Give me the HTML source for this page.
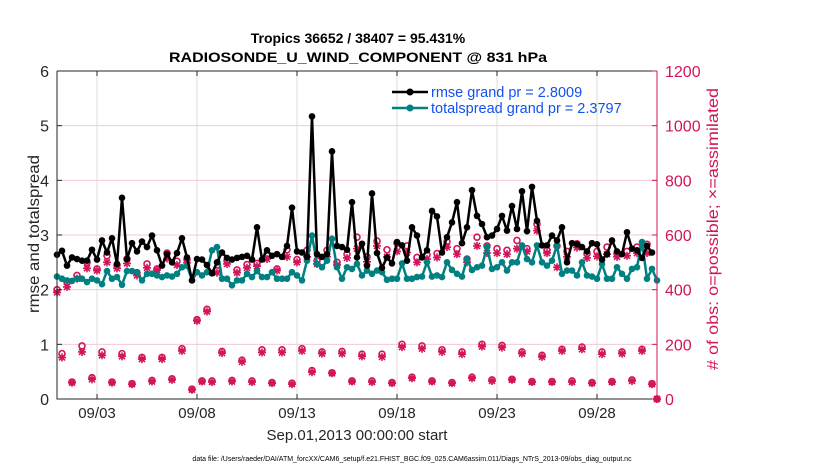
<!DOCTYPE html>
<html><head><meta charset="utf-8"><style>
html,body{margin:0;padding:0;background:#fff;}
svg{display:block;font-family:"Liberation Sans",Arial,sans-serif;}
</style></head><body>
<svg id="chart" width="830" height="470" viewBox="0 0 830 470">
<rect x="0" y="0" width="830" height="470" fill="#fff"/>
<g id="grid"></g>
<g id="series"></g>
<g id="axes"></g>
<text x="358" y="43" text-anchor="middle" font-size="14" font-weight="bold">Tropics 36652 / 38407 = 95.431%</text>
<text x="358" y="62" text-anchor="middle" font-size="14" font-weight="bold" textLength="378" lengthAdjust="spacingAndGlyphs">RADIOSONDE_U_WIND_COMPONENT @ 831 hPa</text>
<text transform="translate(39,234) rotate(-90)" text-anchor="middle" font-size="16" fill="#262626" textLength="158" lengthAdjust="spacingAndGlyphs">rmse and totalspread</text>
<text transform="translate(718,229) rotate(-90)" text-anchor="middle" font-size="16" fill="#d2145a" textLength="282" lengthAdjust="spacingAndGlyphs"># of obs: o=possible; ×=assimilated</text>
<text x="357" y="440" text-anchor="middle" font-size="15" fill="#262626">Sep.01,2013 00:00:00 start</text>
<text x="412" y="461" text-anchor="middle" font-size="7" fill="#000">data file: /Users/raeder/DAI/ATM_forcXX/CAM6_setup/f.e21.FHIST_BGC.f09_025.CAM6assim.011/Diags_NTrS_2013-09/obs_diag_output.nc</text>
<g>
<line x1="392" y1="92" x2="428" y2="92" stroke="#000" stroke-width="2.5"/>
<circle cx="410" cy="92" r="3.5" fill="#000"/>
<text x="431" y="97" font-size="14.5" fill="#1450f0">rmse grand pr = 2.8009</text>
<line x1="392" y1="108" x2="428" y2="108" stroke="#008080" stroke-width="2.5"/>
<circle cx="410" cy="108" r="3.5" fill="#008080"/>
<text x="431" y="113" font-size="14.5" fill="#1450f0">totalspread grand pr = 2.3797</text>
</g>
</svg>
<script>
const rmse=[2.64,2.71,2.44,2.59,2.56,2.53,2.53,2.73,2.55,2.9,2.68,2.94,2.47,3.68,2.56,2.85,2.7,2.88,2.78,2.99,2.72,2.44,2.65,2.5,2.67,2.94,2.59,2.17,2.56,2.55,2.45,2.3,2.5,2.68,2.58,2.55,2.58,2.6,2.62,2.55,3.14,2.55,2.72,2.62,2.65,2.6,2.8,3.5,2.7,2.68,2.6,5.17,2.65,2.6,2.65,4.53,2.8,2.78,2.73,3.6,2.59,2.84,2.44,3.76,2.67,2.4,2.59,2.48,2.87,2.81,2.53,3.14,2.99,2.59,2.72,3.44,3.34,2.68,2.96,3.23,3.6,2.85,3.14,3.82,3.35,3.2,2.96,2.99,3.11,3.35,3.08,3.53,3.11,3.8,3.07,3.88,3.26,2.81,2.81,2.99,2.9,3.14,2.5,2.85,2.83,2.78,2.7,2.85,2.83,2.55,2.65,2.9,2.7,2.65,3.05,2.75,2.72,2.58,2.8,2.68];
const spread=[2.24,2.2,2.17,2.16,2.2,2.2,2.14,2.2,2.17,2.1,2.34,2.2,2.23,2.09,2.34,2.34,2.32,2.17,2.29,2.29,2.26,2.23,2.26,2.24,2.29,2.41,2.44,2.17,2.32,2.26,2.32,2.72,2.78,2.2,2.2,2.08,2.17,2.17,2.29,2.23,2.34,2.23,2.23,2.32,2.2,2.2,2.2,2.32,2.26,2.17,2.53,2.99,2.47,2.41,2.53,2.93,2.41,2.2,2.41,2.38,2.47,2.26,2.35,2.29,2.35,2.32,2.18,2.2,2.2,2.48,2.2,2.2,2.23,2.24,2.5,2.24,2.26,2.23,2.5,2.36,2.29,2.24,2.56,2.36,2.41,2.44,2.78,2.38,2.41,2.5,2.35,2.5,2.5,2.81,2.56,2.5,2.81,2.5,2.44,2.53,2.81,2.29,2.35,2.35,2.26,2.5,2.26,2.24,2.2,2.47,2.2,2.2,2.41,2.29,2.2,2.38,2.41,2.87,2.2,2.38,2.17];
const possible=[400,166,428,62,452,194,500,78,476,172,524,62,490,166,512,56,462,152,494,68,476,152,534,74,504,184,510,36,290,66,328,66,470,174,506,68,472,142,492,66,496,180,530,60,476,180,546,58,510,184,544,104,506,172,544,96,500,174,530,66,592,164,520,66,578,164,546,60,570,200,560,80,518,194,528,66,532,180,576,60,550,172,512,80,592,200,560,70,550,196,544,72,580,172,550,64,640,160,544,64,560,182,540,66,568,190,532,60,540,172,556,64,532,172,540,70,556,182,566,56,0];
const assimilated=[390,152,410,60,440,172,478,72,470,160,500,60,478,156,496,54,452,146,480,64,472,146,514,70,490,176,498,34,286,64,320,62,462,168,494,64,462,136,480,62,486,170,512,58,470,170,520,54,500,176,520,98,494,166,520,94,490,166,516,64,550,156,502,62,560,154,520,58,540,190,536,76,500,184,512,64,518,172,556,58,530,164,500,76,560,192,534,66,534,188,530,70,550,166,540,62,616,154,534,62,482,176,520,62,554,182,516,58,522,164,530,62,520,166,524,66,534,176,534,54,0];
const dayTicks=["09/03","09/08","09/13","09/18","09/23","09/28"];
const tickDays=[2,7,12,17,22,27];
const yTicks=[0,1,2,3,4,5,6];
const y2Ticks=[0,200,400,600,800,1000,1200];

const NS="http://www.w3.org/2000/svg";
const X0=57,X1=657,Y0=399,Y1=71,STEPS=120;
const xs=i=>X0+(X1-X0)*i/STEPS;
const xd=d=>X0+(X1-X0)*d/30;
const yl=v=>Y0-(Y0-Y1)*v/6;
const yr=v=>Y0-(Y0-Y1)*v/1200;
function mk(tag,attrs,parent){const e=document.createElementNS(NS,tag);for(const k in attrs)e.setAttribute(k,attrs[k]);parent.appendChild(e);return e;}
const grid=document.getElementById('grid'),ser=document.getElementById('series'),ax=document.getElementById('axes');
const RED="#d2145a";
tickDays.forEach((d,i)=>{const l=mk('line',{x1:xd(d),x2:xd(d),y1:Y1,y2:Y0,stroke:'#dcdcdc','stroke-width':1},grid);

});
y2Ticks.forEach(v=>{if(v===0||v===1200)return;const l=mk('line',{x1:X0,x2:X1,y1:yr(v),y2:yr(v),stroke:'#f5c8d8','stroke-width':1},grid);

});
possible.forEach((v,i)=>{const c=mk('circle',{cx:xs(i),cy:yr(v),r:3,fill:'none',stroke:RED,'stroke-width':1.6},ser);

});
assimilated.forEach((v,i)=>{const x=xs(i),y=yr(v),s=4;const g=mk('path',{d:`M${x-s} ${y}H${x+s}M${x} ${y-s}V${y+s}M${x-3} ${y-3}L${x+3} ${y+3}M${x-3} ${y+3}L${x+3} ${y-3}`,stroke:RED,'stroke-width':1.6,fill:'none'},ser);

});
function line(arr,color,name){const d=arr.map((v,i)=>(i?'L':'M')+xs(i).toFixed(1)+' '+yl(v).toFixed(1)).join('');
const p=mk('path',{d:d,stroke:color,'stroke-width':2.5,fill:'none','stroke-linejoin':'round'},ser);


arr.forEach((v,i)=>{const c=mk('circle',{cx:xs(i),cy:yl(v),r:3.3,fill:color},ser);

});}
line(spread,'#008080','totalspread');
line(rmse,'#000','rmse');
const b=mk('path',{d:`M${X0} ${Y1}V${Y0}H${X1}M${X0} ${Y1}H${X1}`,stroke:'#262626','stroke-width':1,fill:'none'},ax);


const r=mk('line',{x1:X1,x2:X1,y1:Y1,y2:Y0,stroke:RED,'stroke-width':1},ax);


yTicks.forEach(v=>{mk('line',{x1:X0,x2:X0+5,y1:yl(v),y2:yl(v),stroke:'#262626'},ax);
const t=mk('text',{x:X0-8,y:yl(v)+6,'text-anchor':'end','font-size':16,fill:'#262626'},ax);t.textContent=v;

});
y2Ticks.forEach(v=>{mk('line',{x1:X1-5,x2:X1,y1:yr(v),y2:yr(v),stroke:RED},ax);
const t=mk('text',{x:X1+8,y:yr(v)+6,'font-size':16,fill:RED},ax);t.textContent=v;

});
tickDays.forEach((d,i)=>{mk('line',{x1:xd(d),x2:xd(d),y1:Y0,y2:Y0-5,stroke:'#262626'},ax);mk('line',{x1:xd(d),x2:xd(d),y1:Y1,y2:Y1+5,stroke:'#262626'},ax);
const t=mk('text',{x:xd(d),y:Y0+19,'text-anchor':'middle','font-size':15,fill:'#262626'},ax);t.textContent=dayTicks[i];

});
</script>
</body></html>
